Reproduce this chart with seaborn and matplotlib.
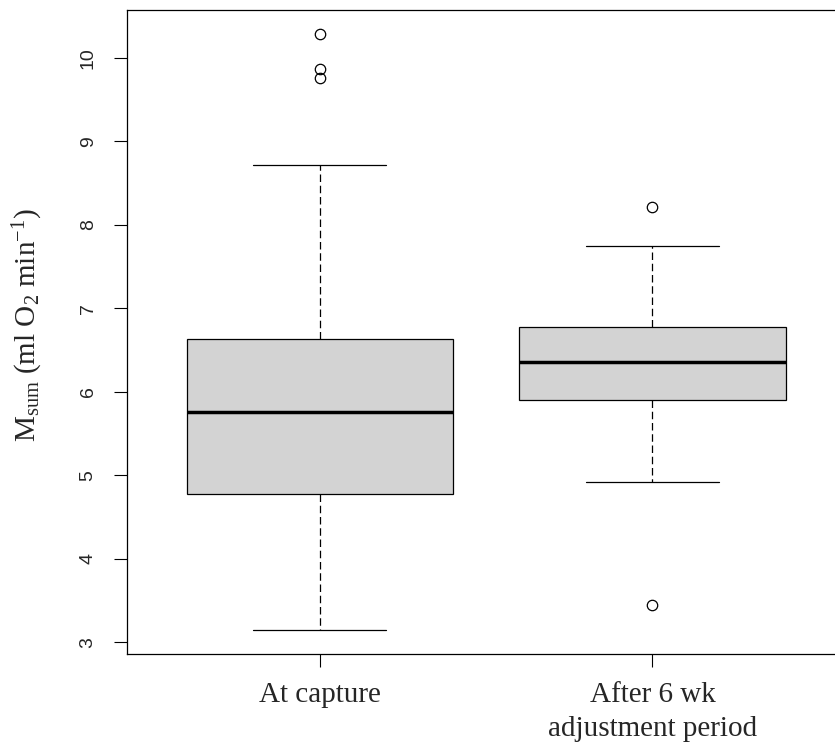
import matplotlib
matplotlib.use("Agg")
import matplotlib.pyplot as plt
import seaborn as sns

# box summary values (ml O2 per min)
groups = ["At capture", "After 6 wk\nadjustment period"]
whisker_low = [3.15, 4.92]
quart_1 = [4.78, 5.90]
median = [5.76, 6.35]
quart_3 = [6.63, 6.77]
whisker_high = [8.72, 7.75]
outliers = [[9.76, 9.87, 10.29], [3.44, 8.21]]
yticks = [3, 4, 5, 6, 7, 8, 9, 10]

sns.set_theme(style="white")
plt.rcParams["font.family"] = ["Liberation Serif", "DejaVu Serif"]
plt.rcParams["mathtext.fontset"] = "custom"
plt.rcParams["mathtext.rm"] = "Liberation Serif"
plt.rcParams["mathtext.it"] = "Liberation Serif:italic"

stats = []
for i, g in enumerate(groups):
    stats.append(dict(label=g, whislo=whisker_low[i], q1=quart_1[i], med=median[i],
                      q3=quart_3[i], whishi=whisker_high[i], fliers=outliers[i]))

fig = plt.figure(figsize=(8.35, 7.51), dpi=100)
# R-style plot region, right edge runs just past the canvas like the original
ax = fig.add_axes([126.7 / 835, (751 - 653.5) / 751, (845.5 - 126.7) / 835, (653.5 - 9.7) / 751])

ax.bxp(stats, positions=[1, 2], widths=0.8, capwidths=0.4, patch_artist=True,
       boxprops=dict(facecolor="#d3d3d3", edgecolor="black", linewidth=0.9),
       medianprops=dict(color="black", linewidth=2.5, solid_capstyle="butt"),
       whiskerprops=dict(color="black", linewidth=0.9, linestyle=(0, (6, 3))),
       capprops=dict(color="black", linewidth=0.9),
       flierprops=dict(marker="o", markerfacecolor="none", markeredgecolor="black",
                       markersize=7.5, markeredgewidth=0.9))

ax.set_xlim(0.42, 2.58)
ax.set_ylim(2.864, 10.576)
for s in ax.spines.values():
    s.set_visible(True)
    s.set_color("black")
    s.set_linewidth(0.9)

ax.set_yticks(yticks)
ax.set_yticklabels([str(t) for t in yticks], rotation=90, va="center",
                   family="Liberation Sans", fontsize=14)
ax.set_xticks([1, 2])
ax.set_xticklabels(groups, fontsize=21, linespacing=1.4)
ax.tick_params(axis="both", direction="out", length=9.6, width=0.8, color="black",
               bottom=True, left=True)
ax.tick_params(axis="y", pad=12)
ax.tick_params(axis="x", pad=11)

ax.set_ylabel(r"M$_{\mathrm{sum}}$ (ml O$_2$ min$^{-1}$)", fontsize=21)
ax.yaxis.set_label_coords(-(126.7 - 45) / (845.5 - 126.7), 0.51)

fig.savefig("out.png", dpi=100)
